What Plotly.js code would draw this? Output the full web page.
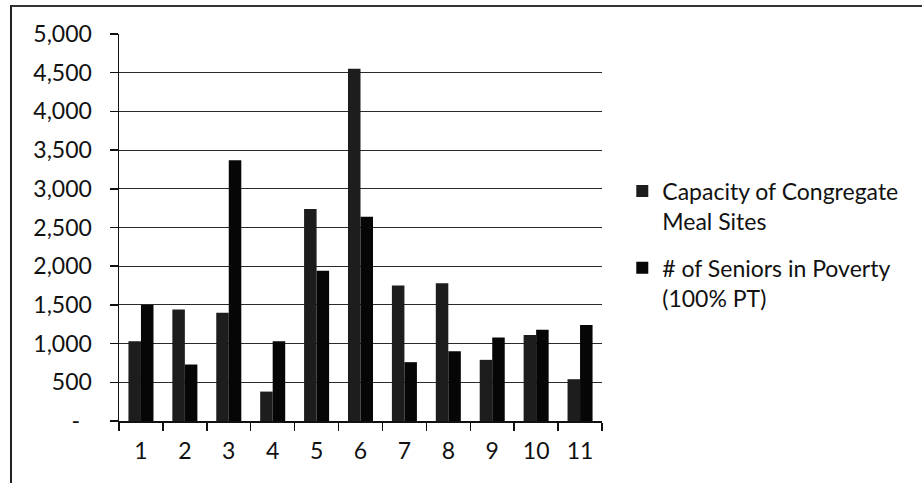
<!DOCTYPE html>
<html>
<head>
<meta charset="utf-8">
<script src="https://cdn.plot.ly/plotly-3.0.1.min.js"></script>
<style>
  html, body { margin: 0; padding: 0; background: #fff; }
  #wrap { position: relative; width: 922px; height: 483px; }
  #frame { position: absolute; left: 10px; top: 5px; right: 0; bottom: 0;
           border-left: 2px solid #222; border-top: 2px solid #333; pointer-events: none; }
  #chart { position: absolute; left: 0; top: 0; width: 922px; height: 483px; }
</style>
</head>
<body>
<div id="wrap">
  <div id="chart"></div>
  <div id="frame"></div>
</div>
<script>
// Regions 1-11
const regions = ['1', '2', '3', '4', '5', '6', '7', '8', '9', '10', '11'];

// Capacity of congregate meal sites per region
const mealSiteCapacity = [1030, 1440, 1400, 380, 2740, 4550, 1750, 1780, 790, 1110, 540];

// Seniors at or below 100% of the poverty threshold per region
const seniorsInPoverty = [1500, 730, 3370, 1030, 1940, 2640, 760, 900, 1080, 1180, 1240];

const seriesNames = ['Capacity of Congregate<br>Meal Sites', '# of Seniors in Poverty<br>(100% PT)'];

// Y-axis labels in accounting style (zero shown as a dash)
const yTickVals = [0, 500, 1000, 1500, 2000, 2500, 3000, 3500, 4000, 4500, 5000];
const yTickText = ['-\u00a0\u00a0', '500', '1,000', '1,500', '2,000', '2,500', '3,000', '3,500', '4,000', '4,500', '5,000'];

const tickFont = { family: 'Lato, "Noto Sans", sans-serif', size: 23, color: '#111' };
const legendFont = { family: 'Lato, "Noto Sans", sans-serif', size: 23, color: '#111' };

const traces = [
  { type: 'bar', name: seriesNames[0], legendgroup: 'capacity', x: regions, y: mealSiteCapacity,
    marker: { color: '#1d1d1d', line: { width: 0 } } },
  { type: 'bar', name: seriesNames[1], legendgroup: 'poverty', x: regions, y: seniorsInPoverty,
    marker: { color: '#060606', line: { width: 0 } } }
];

const layout = {
  width: 922, height: 483,
  margin: { l: 119, r: 320, t: 34, b: 62 },
  paper_bgcolor: '#fff', plot_bgcolor: '#fff',
  font: tickFont,
  barmode: 'group', bargap: 0.43, bargroupgap: 0,
  showlegend: true,
  legend: {
    x: 1.042, y: 0.65, xanchor: 'left', yanchor: 'top',
    valign: 'top', font: legendFont, traceorder: 'grouped', tracegroupgap: 14,
    bgcolor: 'rgba(0,0,0,0)', itemwidth: 30
  },
  xaxis: {
    type: 'category', showgrid: false,
    showline: true, linecolor: '#111', linewidth: 1.5,
    ticks: 'outside', tickson: 'boundaries', ticklen: 8, tickcolor: '#111', tickwidth: 1.5,
    ticklabelstandoff: 9, tickfont: tickFont, fixedrange: true
  },
  yaxis: {
    range: [0, 5000], tickmode: 'array', tickvals: yTickVals, ticktext: yTickText,
    showgrid: true, gridcolor: '#2a2a2a', gridwidth: 1,
    showline: true, linecolor: '#111', linewidth: 1.5,
    ticks: 'outside', ticklen: 8, tickcolor: '#111', tickwidth: 1.5,
    ticklabelstandoff: 13, tickfont: tickFont, zeroline: false, fixedrange: true
  }
};

Plotly.newPlot('chart', traces, layout, { staticPlot: true, displayModeBar: false });
</script>
</body>
</html>
